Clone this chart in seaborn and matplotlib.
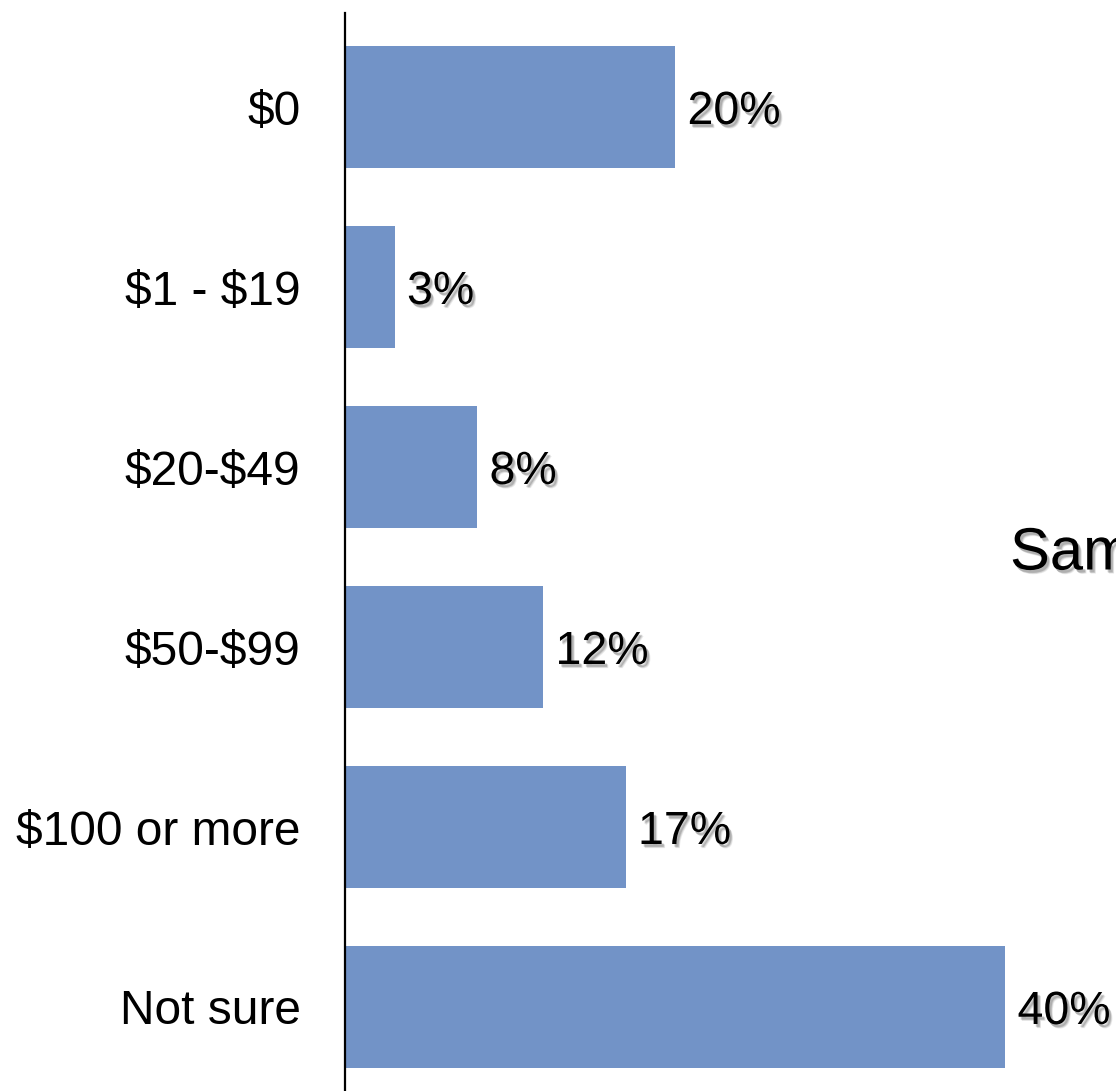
import matplotlib
matplotlib.use("Agg")
import matplotlib.pyplot as plt
import matplotlib.patheffects as pe
import seaborn as sns
import pandas as pd

# Share of respondents by amount
categories = ["$0", "$1 - $19", "$20-$49", "$50-$99", "$100 or more", "Not sure"]
shares = [20, 3, 8, 12, 17, 40]
value_labels = ["20%", "3%", "8%", "12%", "17%", "40%"]
side_note = "Sample"

BAR_COLOR = "#7293c7"
FONT = ["Liberation Sans", "DejaVu Sans"]

sns.set_theme(style="white")
plt.rcParams["font.family"] = FONT
plt.rcParams["text.parse_math"] = False

df = pd.DataFrame({"category": categories, "share": shares})

W, H = 1116, 1091
fig = plt.figure(figsize=(W / 100, H / 100), dpi=100)
ax = fig.add_axes([345 / W, 0.0, 1 - 345 / W, (H - 13) / H])

sns.barplot(data=df, y="category", x="share", order=categories,
            color=BAR_COLOR, saturation=1, width=0.68, ax=ax,
            edgecolor="none")

ax.set_xlim(0, (W - 345) / 16.5)
ax.set_ylim(5 + 84 / 180, -94 / 180)

for s in ["top", "right", "bottom"]:
    ax.spines[s].set_visible(False)
ax.spines["left"].set_color("black")
ax.spines["left"].set_linewidth(1.6)
ax.set_xticks([])
ax.set_xlabel("")
ax.set_ylabel("")
ax.tick_params(axis="y", length=0, pad=32, labelsize=34.5, labelcolor="black")
for t in ax.get_yticklabels():
    t.set_family(FONT)
    t.set_verticalalignment("center_baseline")

# soft drop shadow for value labels
shadow = [
    pe.SimplePatchShadow(offset=(2.5, -3), shadow_rgbFace="black", alpha=0.08),
    pe.SimplePatchShadow(offset=(2, -2.5), shadow_rgbFace="black", alpha=0.12),
    pe.SimplePatchShadow(offset=(1.5, -2), shadow_rgbFace="black", alpha=0.15),
    pe.Normal(),
]

for i, (v, lab) in enumerate(zip(shares, value_labels)):
    ax.annotate(lab, xy=(v, i), xytext=(9, 0), textcoords="offset points",
                ha="left", va="center_baseline", fontsize=33.5, color="black",
                family=FONT, path_effects=shadow, annotation_clip=False)

fig.text(1010 / W, 1 - 554 / H, side_note, ha="left", va="center",
         fontsize=43, color="black", family=FONT, path_effects=shadow)

fig.savefig("out.png", dpi=100)
